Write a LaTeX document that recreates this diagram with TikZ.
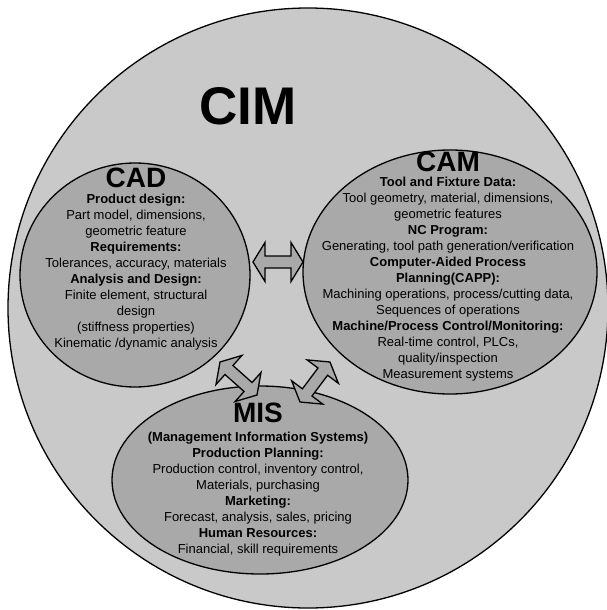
\documentclass[tikz,border=0pt]{standalone}
\usepackage{fontspec}
\setmainfont{Liberation Sans}
\usetikzlibrary{shapes.geometric, calc, positioning}
\definecolor{cimgray}{HTML}{C9C9C9}
\definecolor{subgray}{HTML}{A9A9A9}
\tikzset{
  x=1pt, y=-1pt,
  region/.style={draw, line width=1.3pt, fill=subgray, ellipse},
  title/.style={inner sep=0pt, font=\fontsize{28}{30}\selectfont\bfseries},
  body/.style={inner sep=0pt, align=center, font=\fontsize{13}{16}\selectfont},
  blockarrow/.style={draw, line width=1.3pt, fill=subgray, line join=miter},
}
% double block arrow from #1 to #2
\newcommand{\dblarrow}[2]{%
  \draw[blockarrow] let \p1=($(#2)-(#1)$), \n1={atan2(\y1,\x1)}, \n2={veclen(\x1,\y1)} in
    [shift={(#1)}, rotate=\n1]
    (0pt,0pt) -- (12pt,19.5pt) -- (12pt,6pt) -- (\n2-12pt,6pt) -- (\n2-12pt,19.5pt)
    -- (\n2,0pt) -- (\n2-12pt,-19.5pt) -- (\n2-12pt,-6pt) -- (12pt,-6pt) -- (12pt,-19.5pt) -- cycle;}

\begin{document}
\begin{tikzpicture}
  \useasboundingbox (0,0) rectangle (606,610);

  % regions
  \node[draw, line width=1.3pt, fill=cimgray, circle, minimum size=600pt] (cim) at (308,308) {};
  \node[region, minimum width=230pt, minimum height=224pt] (cad) at (135,275) {};
  \node[region, minimum width=294pt, minimum height=244pt] (cam) at (450,272) {};
  \node[region, minimum width=296pt, minimum height=188pt] (mis) at (260,480) {};

  % titles
  \node[inner sep=0pt, font=\fontsize{53}{60}\selectfont\bfseries] (cimtitle) at (248,106) {CIM};
  \node[title] (cadtitle) at (136,178) {CAD};
  \node[title] (camtitle) at (448,162) {CAM};
  \node[title] (mistitle) at (258,413) {MIS};

  % texts
  \node[body, below=6pt of cadtitle] (cadtext) {%
    \textbf{Product design:}\\ Part model, dimensions,\\ geometric feature\\
    \textbf{Requirements:}\\ Tolerances, accuracy, materials\\
    \textbf{Analysis and Design:}\\ Finite element, structural\\ design\\
    (stiffness properties)\\ Kinematic /dynamic analysis};
  \node[body, below=5pt of camtitle] (camtext) {%
    \textbf{Tool and Fixture Data:}\\ Tool geometry, material, dimensions,\\ geometric features\\
    \textbf{NC Program:}\\ Generating, tool path generation/verification\\
    \textbf{Computer-Aided Process}\\ \textbf{Planning(CAPP):}\\
    Machining operations, process/cutting data,\\ Sequences of operations\\
    \textbf{Machine/Process Control/Monitoring:}\\ Real-time control, PLCs,\\
    quality/inspection\\ Measurement systems};
  \node[body, below=9pt of mistitle] (mistext) {%
    \textbf{(Management Information Systems)}\\
    \textbf{Production Planning:}\\ Production control, inventory control,\\ Materials, purchasing\\
    \textbf{Marketing:}\\ Forecast, analysis, sales, pricing\\
    \textbf{Human Resources:}\\ Financial, skill requirements};

  % arrows
  \coordinate (cadcamA) at (253,262);
  \coordinate (cadcamB) at (303,262);
  \coordinate (cadmisA) at (220,362);
  \coordinate (cadmisB) at (257,395);
  \coordinate (cammisA) at (300,402);
  \coordinate (cammisB) at (330,362);
  \dblarrow{cadcamA}{cadcamB}
  \dblarrow{cadmisA}{cadmisB}
  \dblarrow{cammisA}{cammisB}
\end{tikzpicture}
\end{document}
